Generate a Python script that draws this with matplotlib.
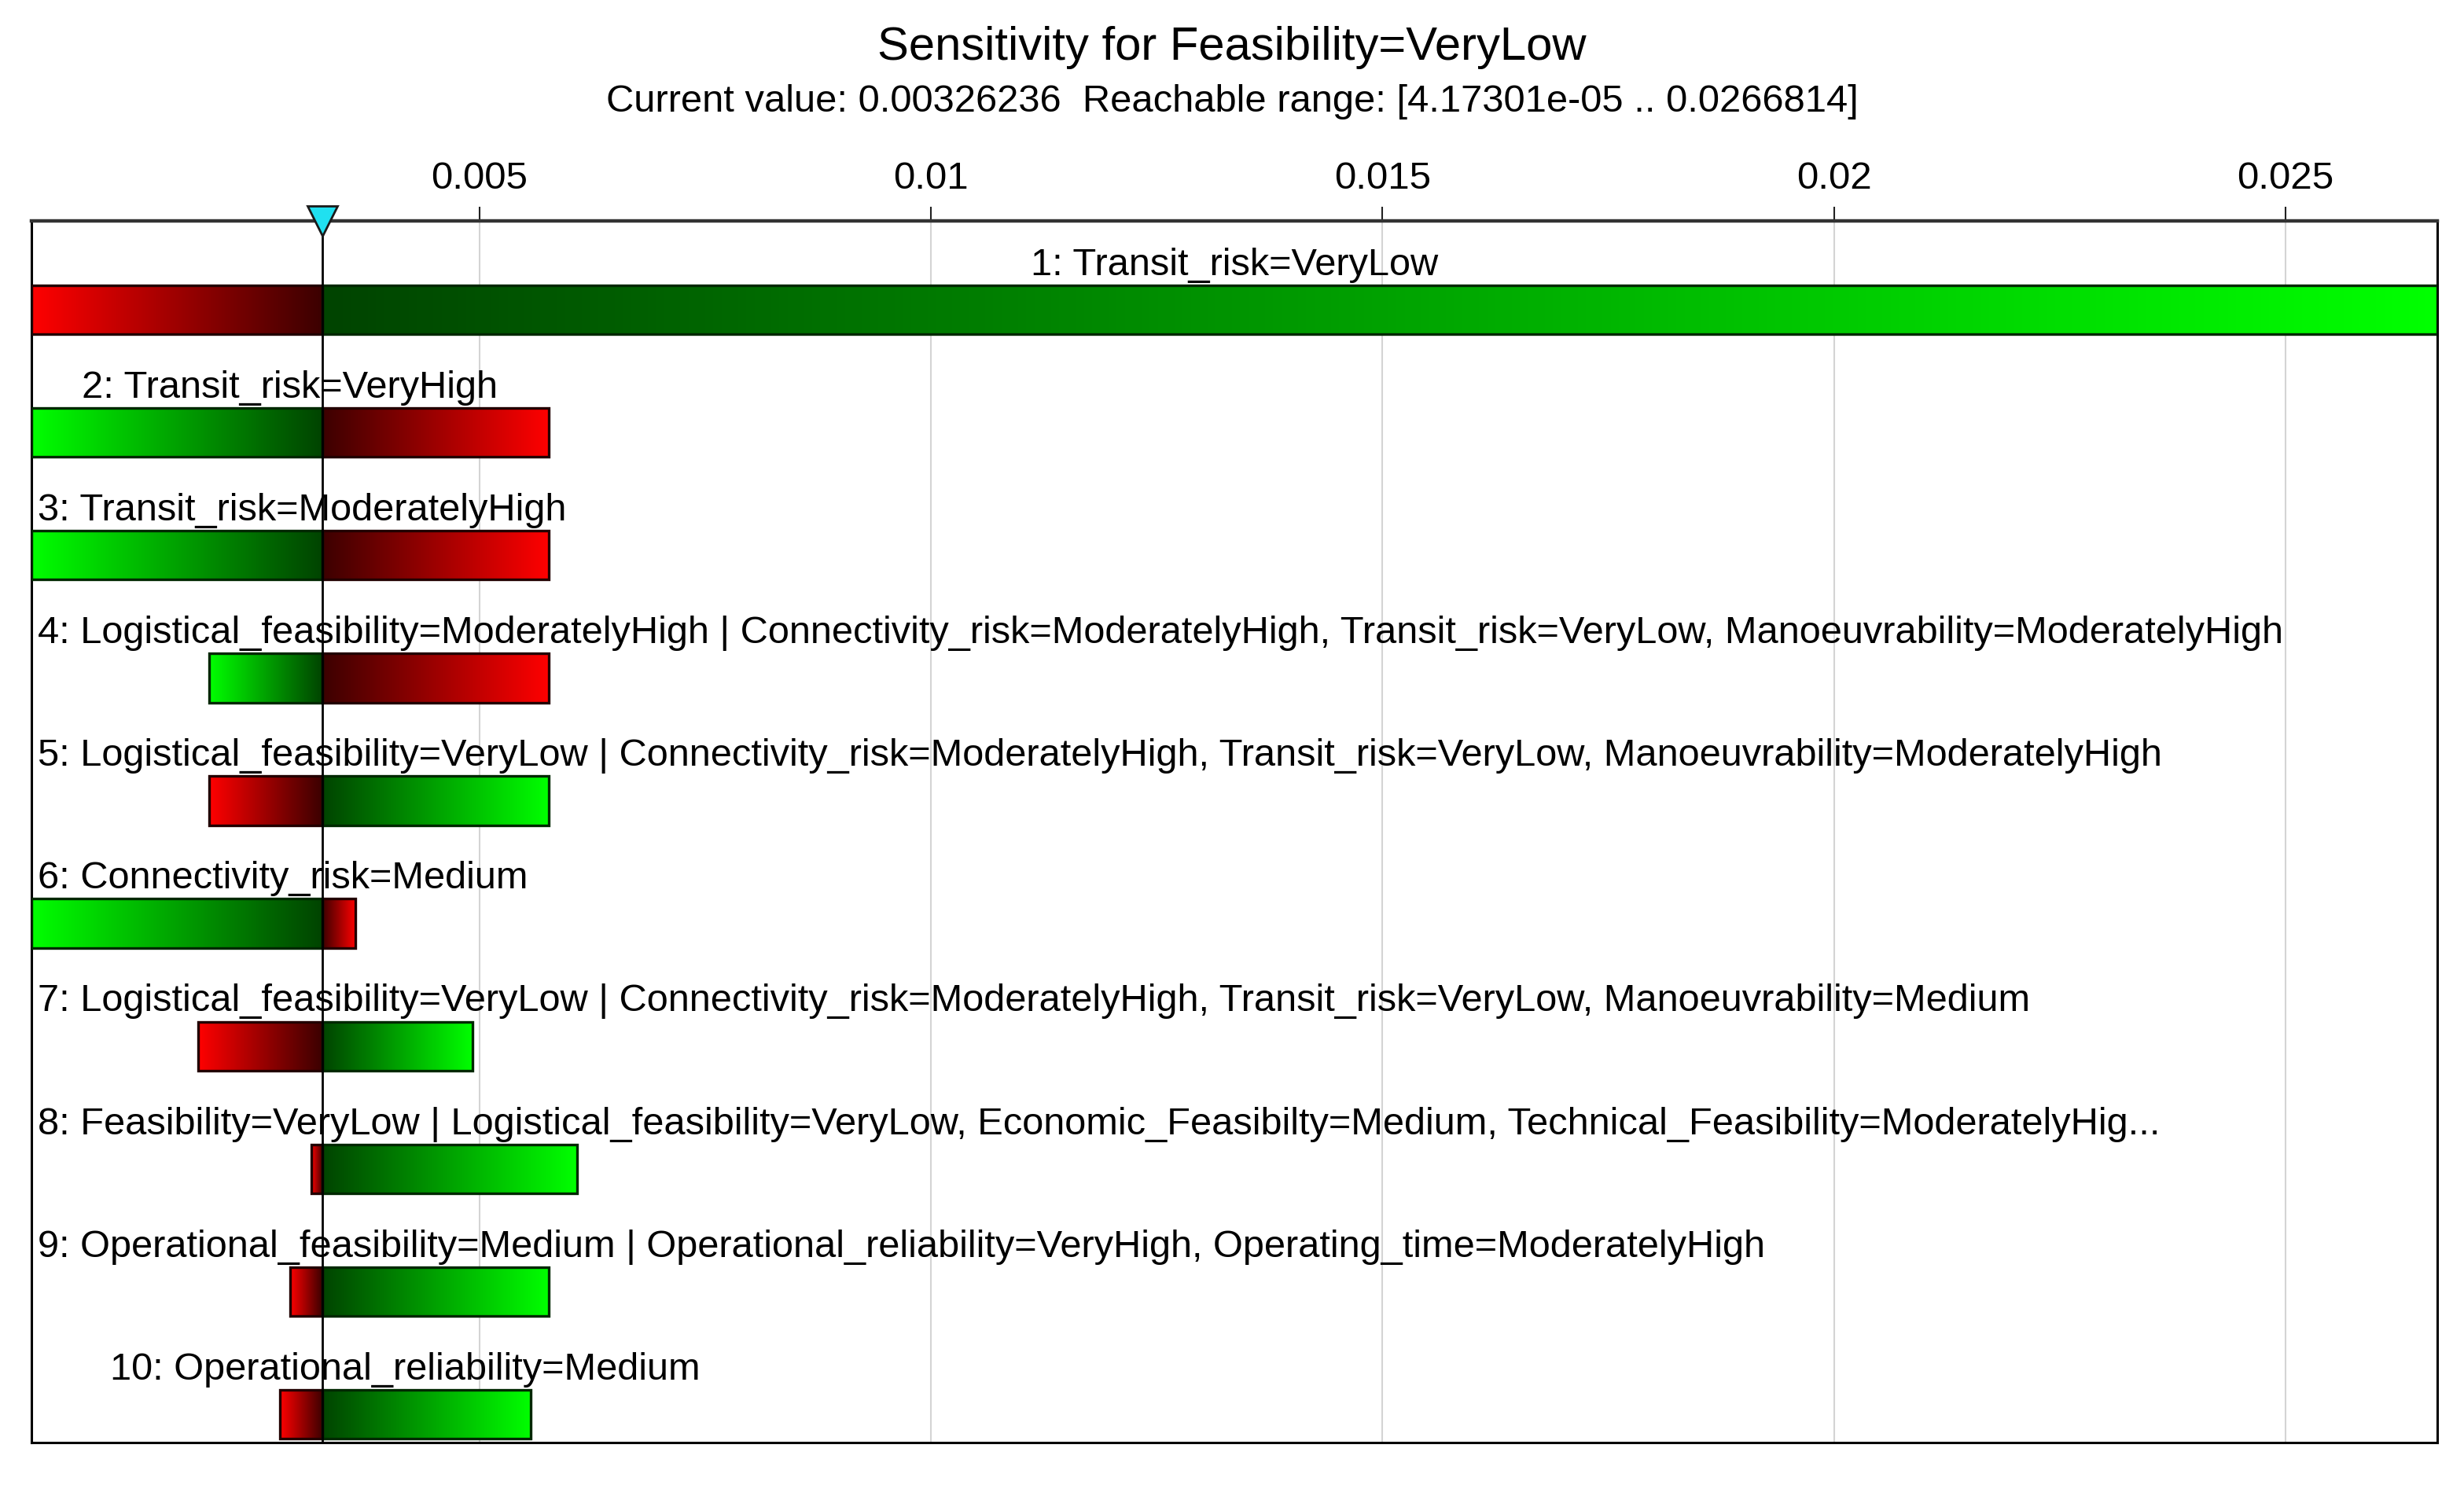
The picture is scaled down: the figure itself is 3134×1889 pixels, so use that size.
import numpy as np
import matplotlib
matplotlib.use("Agg")
import matplotlib.pyplot as plt
from matplotlib.colors import LinearSegmentedColormap
from matplotlib.transforms import blended_transform_factory

plt.rcParams['font.family'] = ['Liberation Sans', 'DejaVu Sans']

# ---------------- data ----------------
title = "Sensitivity for Feasibility=VeryLow"
subtitle = "Current value: 0.00326236  Reachable range: [4.17301e-05 .. 0.0266814]"
current_value = 0.00326236
range_min = 4.17301e-05
range_max = 0.0266814

labels = [
    "1: Transit_risk=VeryLow",
    "2: Transit_risk=VeryHigh",
    "3: Transit_risk=ModeratelyHigh",
    "4: Logistical_feasibility=ModeratelyHigh | Connectivity_risk=ModeratelyHigh, Transit_risk=VeryLow, Manoeuvrability=ModeratelyHigh",
    "5: Logistical_feasibility=VeryLow | Connectivity_risk=ModeratelyHigh, Transit_risk=VeryLow, Manoeuvrability=ModeratelyHigh",
    "6: Connectivity_risk=Medium",
    "7: Logistical_feasibility=VeryLow | Connectivity_risk=ModeratelyHigh, Transit_risk=VeryLow, Manoeuvrability=Medium",
    "8: Feasibility=VeryLow | Logistical_feasibility=VeryLow, Economic_Feasibilty=Medium, Technical_Feasibility=ModeratelyHig...",
    "9: Operational_feasibility=Medium | Operational_reliability=VeryHigh, Operating_time=ModeratelyHigh",
    "10: Operational_reliability=Medium",
]
low_values = [4.17301e-05, 4.17301e-05, 4.17301e-05, 0.00201, 0.00201,
              4.17301e-05, 0.00189, 0.00314, 0.00291, 0.00279]
high_values = [0.0266814, 0.00577, 0.00577, 0.00577, 0.00577,
               0.00363, 0.00493, 0.00608, 0.00577, 0.00557]
low_side_color = ["red", "green", "green", "green", "red",
                  "green", "red", "red", "red", "red"]

tick_values = [0.005, 0.01, 0.015, 0.02, 0.025]
tick_labels = ["0.005", "0.01", "0.015", "0.02", "0.025"]

# ---------------- figure ----------------
W, H, DPI = 3134, 1890, 100
fig = plt.figure(figsize=(W / DPI, H / DPI), dpi=DPI)
fig.patch.set_facecolor("white")

left_px, right_px, top_px, bottom_px = 40, 3100, 282, 1836
ax = fig.add_axes([left_px / W, 1 - bottom_px / H,
                   (right_px - left_px) / W, (bottom_px - top_px) / H])

n = len(labels)
ax.set_xlim(range_min, range_max)
ax.set_ylim(n - 1 + 0.23, -0.724)

cmaps = {
    "red": LinearSegmentedColormap.from_list("r", ["#ff0000", "#3c0000"]),
    "green": LinearSegmentedColormap.from_list("g", ["#00ff00", "#004400"]),
}
edge_cols = {"red": "#220000", "green": "#002800"}
bar_h = 0.40
grad = np.linspace(0, 1, 256).reshape(1, -1)

for v in tick_values:
    ax.axvline(v, color="#d4d4d4", lw=1.5, zorder=0)

for i in range(n):
    lo, hi = low_values[i], high_values[i]
    lc = low_side_color[i]
    rc = "green" if lc == "red" else "red"
    y0, y1 = i - bar_h / 2, i + bar_h / 2
    if lo < current_value:
        ax.imshow(grad, cmap=cmaps[lc], aspect="auto", interpolation="bilinear",
                  extent=(lo, current_value, y1, y0), zorder=2)
        ax.add_patch(plt.Rectangle((lo, y0), current_value - lo, bar_h, fill=False,
                                   ec=edge_cols[lc], lw=2.4, zorder=3))
    if hi > current_value:
        ax.imshow(grad[:, ::-1], cmap=cmaps[rc], aspect="auto", interpolation="bilinear",
                  extent=(current_value, hi, y1, y0), zorder=2)
        ax.add_patch(plt.Rectangle((current_value, y0), hi - current_value, bar_h, fill=False,
                                   ec=edge_cols[rc], lw=2.4, zorder=3))

ax.set_xlim(range_min, range_max)
ax.set_ylim(n - 1 + 0.23, -0.724)

# current value line
ax.axvline(current_value, color="black", lw=2.0, zorder=5)

# labels
fs = 35.1
texts = []
for i in range(n):
    cx = (low_values[i] + high_values[i]) / 2
    t = ax.text(cx, i - 0.29, labels[i], ha="center", va="baseline",
                fontsize=fs, color="black", zorder=6)
    texts.append(t)

fig.canvas.draw()
renderer = fig.canvas.get_renderer()
min_left = left_px + 8
for t in texts:
    bb = t.get_window_extent(renderer)
    if bb.x0 < min_left:
        xd = ax.transData.inverted().transform((min_left, 0))[0]
        t.set_x(xd)
        t.set_ha("left")

# axes styling
ax.set_yticks([])
ax.xaxis.tick_top()
ax.set_xticks(tick_values)
ax.set_xticklabels(tick_labels, fontsize=35.5)
ax.tick_params(axis="x", direction="out", length=13, width=1.5, pad=10, color="#222222")
for s in ax.spines.values():
    s.set_color("black")
    s.set_linewidth(2.2)
ax.spines["top"].set_linewidth(3.2)
ax.spines["top"].set_color("#333333")

# current value marker
trans = blended_transform_factory(ax.transData, ax.transAxes)
ax.plot([current_value], [1.0], marker="v", markersize=28, color="#20e0f0",
        markeredgecolor="#1a1a1a", markeredgewidth=2, transform=trans,
        clip_on=False, zorder=10)

# titles
fig.text(0.5, 1 - 60 / H, title, ha="center", va="center", fontsize=43)
fig.text(0.5, 1 - 130 / H, subtitle, ha="center", va="center", fontsize=35.2)

fig.savefig("out.png", dpi=DPI, facecolor="white")
